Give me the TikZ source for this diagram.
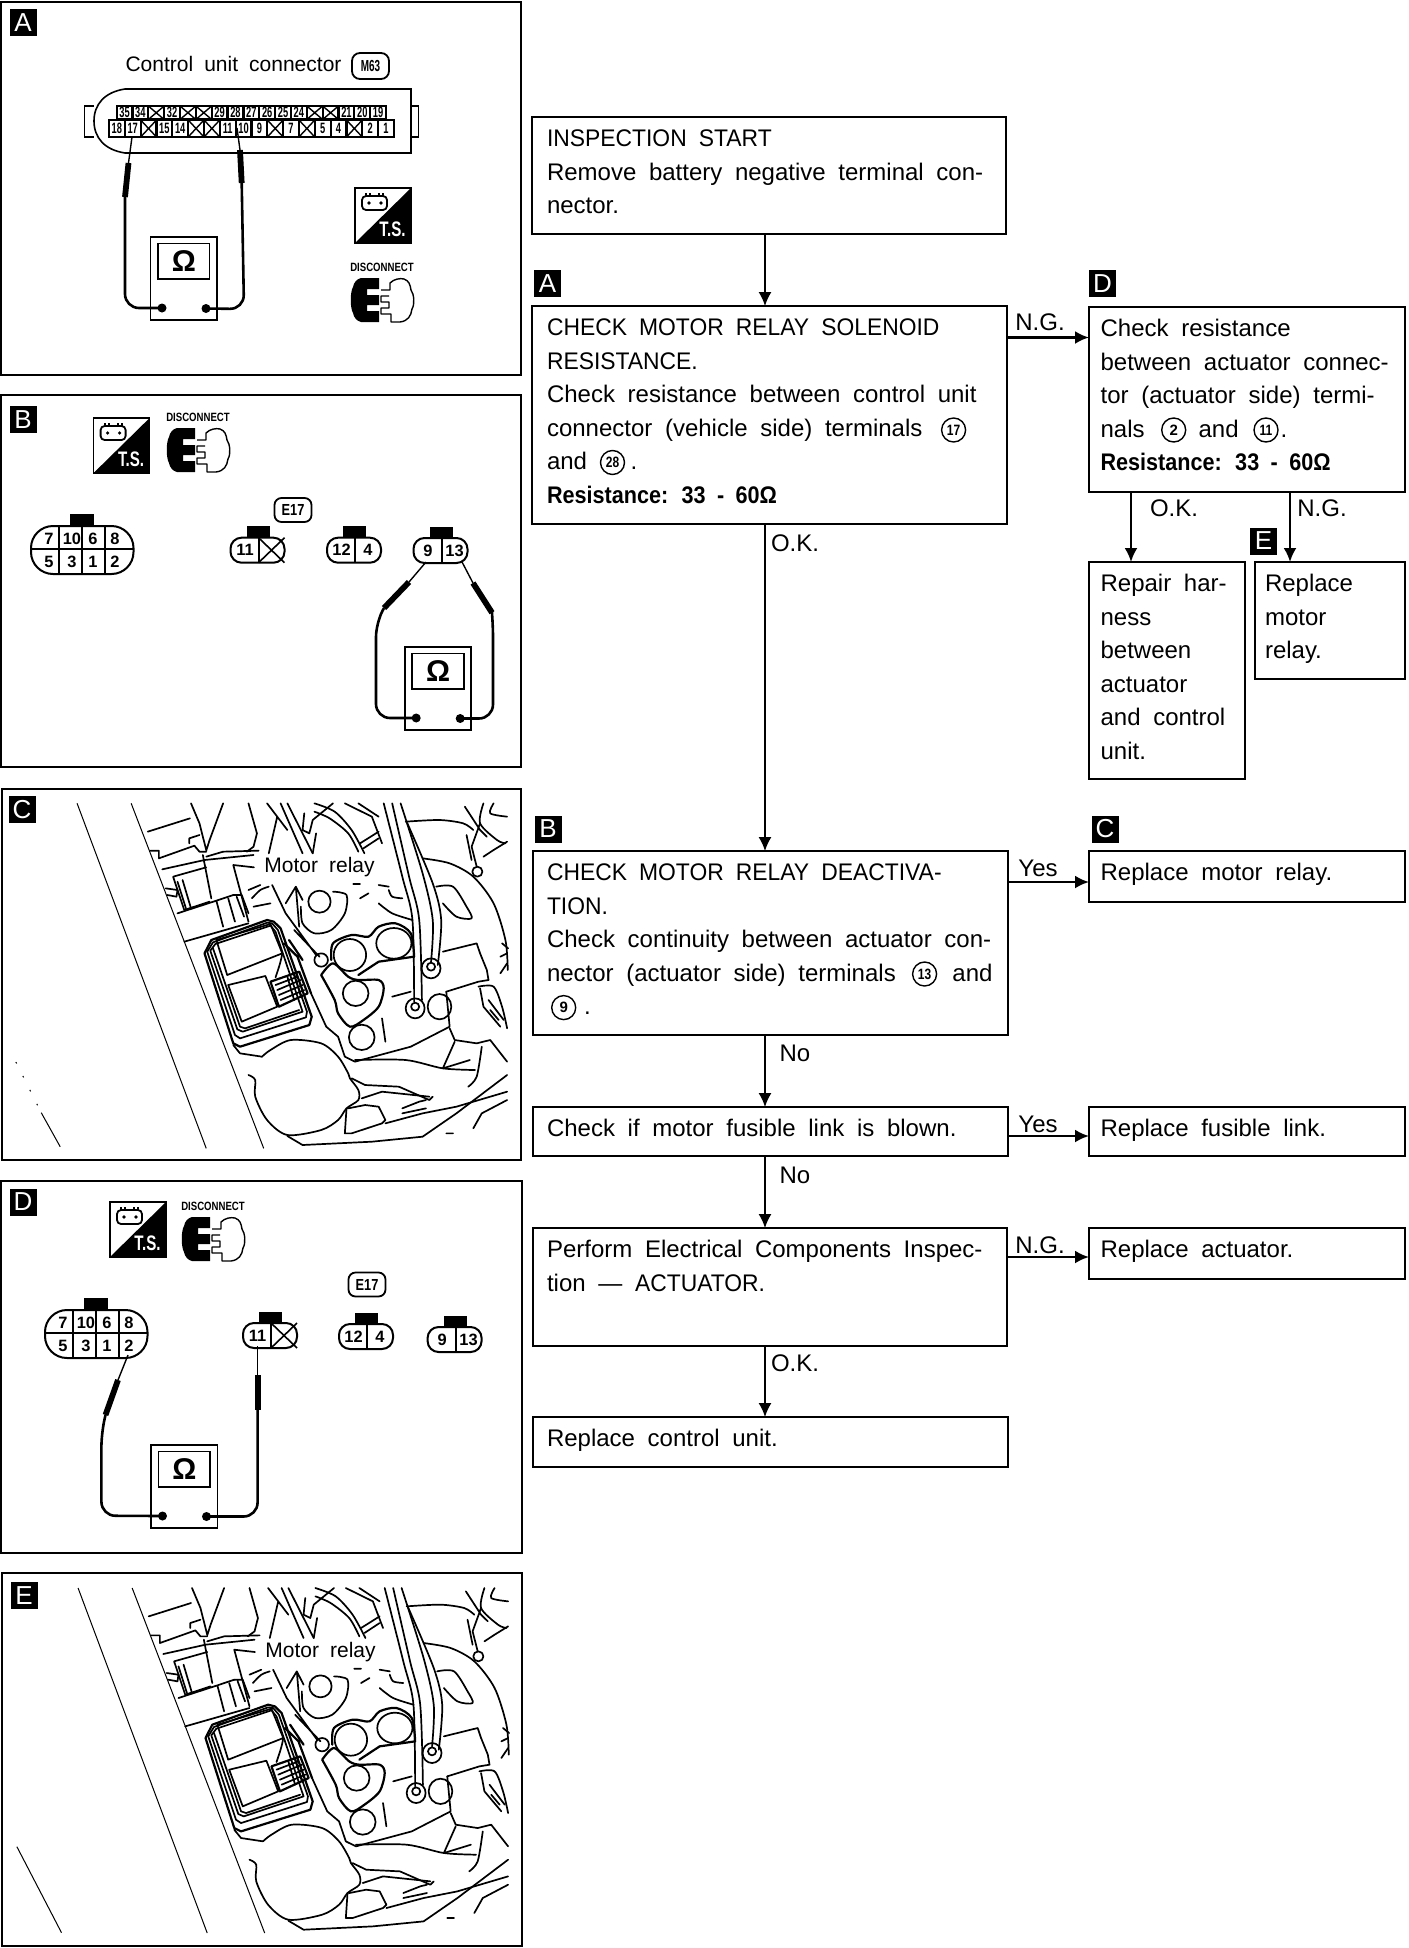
\documentclass[tikz,border=0pt]{standalone}
\usepackage{fontspec}
\setmainfont{Liberation Sans}[WordSpace=1.9]
\usetikzlibrary{arrows.meta}
\newcommand\flowfont{\fontsize{12}{16.75}\selectfont}
\newcommand\ftxt[4][7.5pt]{\parbox[c][\dimexpr#3pt/2\relax][t]{\dimexpr#2pt/2\relax}{\raggedright\setlength\leftskip{#1}\noindent\rule{0pt}{14.9pt}#4}}
\newcommand\seg[2]{\makebox[\dimexpr#1pt/2\relax][l]{#2}}
\newcommand\cond[2][.72]{\scalebox{#1}[1]{#2}}
\newcommand\ucase[1]{\scalebox{.953}[1]{#1}}
\newcommand\resline{\scalebox{.9}[1]{\textbf{Resistance: 33 - 60Ω}}}
\tikzset{
  flowbox/.style={draw,line width=1pt,inner sep=0pt,outer sep=0pt,anchor=north west,font=\flowfont},
  flowlab/.style={font=\flowfont,inner sep=0pt},
  flowarrow/.style={-{Latex[length=7pt,width=6.5pt]},line width=.75pt},
  heavyarrow/.style={-{Latex[length=7pt,width=6.5pt]},line width=1.2pt},
  panelframe/.style={draw,line width=1pt},
  tagbox/.style={fill=black,text=white,inner sep=0pt,minimum width=13.5pt,minimum height=13.5pt,font=\fontsize{13}{13}\selectfont},
  numring/.style={draw,circle,line width=.7pt,inner sep=0pt,minimum size=12pt,font=\fontsize{7.5}{7.5}\selectfont\bfseries},
  capsule/.style={draw,line width=.9pt,rounded corners=3.5pt,inner sep=0pt,minimum width=18.5pt,minimum height=12pt,font=\fontsize{8}{8}\selectfont\bfseries},
  pin/.style={inner sep=0pt,font=\fontsize{8.2}{8.2}\selectfont\bfseries},
  cellnum/.style={inner sep=0pt,font=\fontsize{7.5}{7.5}\selectfont\bfseries},
  probetip/.style={line width=.7pt},
  sleeve/.style={line width=2.9pt},
  probewire/.style={line width=1.3pt,rounded corners=7pt},
  mdot/.style={circle,fill=black,inner sep=0pt,minimum size=4.5pt},
  ink/.style={line width=.85pt,line join=round,line cap=round},
  thinink/.style={line width=.5pt},
  relaylab/.style={fill=white,inner sep=5pt,font=\fontsize{10.5}{10.5}\selectfont},
}
% ---------- repeated symbols (coordinates in reference pixels)
\newcommand\meterbox[3]{%
  \begin{scope}[shift={(#2,#3)}]
    \draw[line width=.9pt] (0,0) rectangle (66.5,83);
    \draw[line width=.9pt] (7.5,6.5) rectangle (59,42);
    \node[inner sep=0pt,font=\fontsize{15}{15}\selectfont\bfseries] (#1O) at (33.5,24.5) {Ω};
    \node[mdot] (#1L) at (11.5,71) {};
    \node[mdot] (#1R) at (55.5,71.5) {};
  \end{scope}}
\newcommand\tsicon[3]{%
  \begin{scope}[shift={(#2,#3)}]
    \draw[line width=.7pt] (0,0) rectangle (56,55);
    \fill (56,0) -- (56,55) -- (0,55) -- cycle;
    \draw[line width=.9pt,rounded corners=2pt] (7,8) rectangle (32,22);
    \draw[line width=.9pt] (11,8) -- (11,5) (15,5) -- (15,8) (24,8) -- (24,5) (28,5) -- (28,8);
    \fill (14,15) circle (1.8) (26,15) circle (1.8);
    \node[inner sep=0pt,text=white,font=\fontsize{10.5}{10.5}\selectfont\bfseries] (#1) at (37.5,41) {\cond[.72]{T.S.}};
  \end{scope}}
\newcommand\discon[3]{%
  \begin{scope}[shift={(#2,#3)}]
    \node[inner sep=0pt,font=\fontsize{6}{6}\selectfont\bfseries] (#1) at (32,-10.5) {\cond[.8]{DISCONNECT}};
    \fill (29,0) -- (11,0) .. controls (7,1) and (4,4) .. (3,9) .. controls (0,14) and (0,30) .. (3,35) .. controls (4,40) and (7,43) .. (11,44) -- (29,44) -- (29,33) -- (17,33) -- (17,27) -- (29,27) -- (29,17) -- (17,17) -- (17,11) -- (29,11) -- cycle;
    \draw[line width=.7pt,line join=round] (31,12) -- (40,12) -- (40,5) .. controls (44,1) and (50,0) .. (54,1) .. controls (59,3) and (60,6) .. (61,12) .. controls (64,16) and (65,26) .. (62,31) .. controls (61,38) and (58,43) .. (50,44) -- (41,44) -- (41,36) -- (31,36) -- (31,30) -- (39,30) -- (39,24) -- (31,24) -- (31,18) -- (39,18);
  \end{scope}}
\newcommand\bigconn[3]{%
  \begin{scope}[shift={(#2,#3)}]
    \fill (39,-12) rectangle (62.5,0);
    \draw[line width=1pt,rounded corners=11pt] (0,0) rectangle (102.5,48);
    \draw[line width=1pt] (0,23) -- (102.5,23) (28,0) -- (28,48) (51,0) -- (51,48) (74,0) -- (74,48);
    \node[pin] (#1a) at (18,13) {7};
    \node[pin] at (41,13) {10};
    \node[pin] at (62,13) {6};
    \node[pin] at (84,13) {8};
    \node[pin] at (18,36) {5};
    \node[pin] at (41,36) {3};
    \node[pin] at (62,36) {1};
    \node[pin] (#1b) at (84,36) {2};
  \end{scope}}
\newcommand\smallconn[5]{%
  \begin{scope}[shift={(#2,#3)}]
    \fill (16,-11.5) rectangle (39,0);
    \draw[line width=1pt,rounded corners=5.5pt] (0,0) rectangle (54,25);
    \draw[line width=1pt] (28,0) -- (28,25);
    \node[pin] (#1) at (14.5,12.5) {#4};
    \ifnum#5=0
      \draw[line width=.8pt] (28,0) -- (54,25) (28,25) -- (54,0);
    \else
      \node[pin] at (41,12.5) {#5};
    \fi
  \end{scope}}
\newcommand\termcell[5]{%
  \begin{scope}[shift={(#1,#2)}]
    \draw[line width=1.1pt,fill=white] (0,0) rectangle (#3,#4);
    \ifnum#5=0
      \draw[line width=.7pt] (0,0) -- (#3,#4) (0,#4) -- (#3,0);
    \else
      \node[cellnum] (cell#5) at (#3/2,#4/2) {\cond[.62]{#5}};
    \fi
  \end{scope}}
% ---------- the engine-bay line drawing (coordinates taken from the crop of panel C)
\newcommand\enginebay{%
  \draw[thinink] (228,70) -- (610,1105) (388,70) -- (780,1105);
  \begin{scope}[ink]
  \draw (437,155) -- (562,115);
  \draw (565,70) -- (590,130) -- (610,210) (660,70) -- (620,180) -- (610,212);
  \draw (560,190) -- (560,175) -- (590,165);
  \draw (445,212) -- (470,212) -- (470,235) -- (575,197) -- (590,215) -- (610,215);
  \draw (610,230) -- (660,215) -- (765,212);
  \draw (480,268) -- (605,240) -- (750,225);
  \draw (600,225) -- (625,355);
  \draw (512,290) -- (610,262) (512,290) -- (545,390) -- (620,365);
  \draw (525,305) -- (550,385) (540,300) -- (565,385);
  \draw (490,325) -- (525,330) -- (522,350) -- (495,345);
  \draw (525,400) -- (640,362) -- (690,345) (640,362) -- (660,440);
  \draw (675,355) -- (695,425) (700,350) -- (722,410) (690,345) -- (715,345) -- (735,400);
  \draw (545,485) -- (735,430);
  % relay housing
  \draw[line width=1.1pt] (605,520) -- (690,790) -- (710,800) -- (915,735) -- (922,710) -- (830,445) -- (810,425) -- (790,420) -- (625,480) -- cycle;
  \draw (613,515) -- (695,765) -- (710,775) -- (905,712) -- (908,695) -- (822,450) -- (805,430) -- (790,428) -- (630,487) -- cycle;
  \draw (622,512) -- (702,748) -- (718,755) -- (895,695) -- (815,455) -- (800,437) -- (637,492) -- cycle;
  \draw (630,505) -- (710,740) -- (725,745) -- (885,690);
  \draw (640,480) -- (800,432) -- (835,520) -- (672,585) -- cycle;
  \draw (675,615) -- (785,588) -- (820,680) -- (715,725) -- cycle;
  \draw (835,520) .. controls (830,550) and (822,570) .. (815,592);
  \draw[line width=1.1pt] (800,605) -- (885,575) -- (910,640) -- (825,680) -- cycle;
  \draw (815,615) -- (880,590) (820,630) -- (890,600) (825,645) -- (895,615) (830,660) -- (900,630) (850,590) -- (870,660) (870,580) -- (890,650);
  \draw[line width=1.1pt] (840,490) -- (880,530) -- (920,640) (855,480) -- (895,540);
  % hoses at the top
  \draw (735,70) -- (760,160) -- (750,200) -- (730,215);
  \draw (795,220) -- (820,110) -- (850,150) (790,70) -- (820,110) (830,70) -- (895,220) (850,70) -- (925,220);
  \draw (900,100) -- (895,150) -- (915,160) -- (925,120) -- (985,70) (935,160) -- (925,220);
  \draw plot[smooth] coordinates {(930,70) (990,95) (1040,150) (1078,220)};
  \draw plot[smooth] coordinates {(930,95) (975,115) (1030,160) (1060,215)};
  \draw (1020,70) -- (1100,110) -- (1130,190) (1060,70) -- (1120,110);
  \draw (1065,190) -- (1120,155) (1075,205) -- (1120,175);
  \draw plot[smooth] coordinates {(1135,70) (1190,290) (1220,420) (1225,665)};
  \draw plot[smooth] coordinates {(1160,70) (1210,290) (1240,420) (1248,660)};
  \draw plot[smooth] coordinates {(1185,70) (1250,280) (1280,420) (1275,545)};
  \draw plot[smooth] coordinates {(1205,130) (1280,310) (1305,420) (1295,555)};
  \draw plot[smooth] coordinates {(1200,125) (1300,120) (1370,130) (1400,150)};
  \draw plot[smooth] coordinates {(1250,235) (1330,250) (1400,290) (1460,370) (1495,480) (1502,570)};
  \draw (1375,80) -- (1420,150) -- (1440,170) (1420,130) -- (1395,200) -- (1410,260) (1380,165) -- (1395,240);
  \draw (1412,275) circle [x radius=15,y radius=15];
  \draw plot[smooth] coordinates {(1500,110) (1450,100) (1460,70)};
  \draw plot[smooth] coordinates {(1430,70) (1420,130) (1470,180) (1495,190)};
  \draw (1430,230) -- (1460,210) -- (1500,185);
  \draw plot[smooth] coordinates {(1290,320) (1340,320) (1380,380) (1395,415) (1350,410) (1310,370)};
  \draw (1310,515) -- (1410,490) -- (1420,520) -- (1440,570) -- (1445,600) -- (1415,605) -- (1320,635);
  \draw (1485,490) -- (1503,505) (1480,530) -- (1500,520) (1480,580) -- (1500,550);
  % manifold
  \draw (805,315) -- (845,400) -- (935,525) (870,450) -- (945,530);
  \draw (845,370) -- (875,320) -- (895,360) (875,320) -- (885,440);
  \draw (945,365) circle [x radius=33,y radius=33];
  \draw plot[smooth] coordinates {(985,335) (1025,345) (1020,400) (980,450) (930,460) (895,430) (890,380)};
  \draw (1065,355) -- (1090,340) (1045,312) -- (1065,312) (735,330) -- (770,315) (750,380) -- (800,370);
  \draw plot[smooth] coordinates {(745,355) (770,330) (795,320)};
  \draw (1120,315) -- (1150,320);
  \draw plot[smooth] coordinates {(1120,370) (1160,400) (1220,420)};
  \draw plot[smooth] coordinates {(1150,330) (1160,350) (1190,355)};
  \draw (1035,525) circle [x radius=48,y radius=48];
  \draw (1165,490) circle [x radius=52,y radius=46];
  \draw[line width=1.1pt] plot[smooth] coordinates {(980,540) (985,490) (1040,465) (1090,470) (1120,440) (1170,430) (1215,460) (1225,530)};
  \draw[line width=1.1pt] (1225,530) -- (1120,545) -- (1060,585);
  \draw[line width=1.1pt] plot[smooth] coordinates {(950,585) (985,550) (1030,590) (1060,600) (1120,600) (1135,625) (1120,680) (1075,720) (1035,740) (1000,700) (990,660) (950,585)};
  \draw (1052,640) circle [x radius=38,y radius=38];
  \draw (1070,772) circle [x radius=38,y radius=38];
  \draw (950,540) circle [x radius=20,y radius=20];
  \draw (1130,715) -- (1140,785) (1160,650) -- (1215,635);
  \draw (1228,685) circle [x radius=28,y radius=30];
  \draw (1228,680) circle [x radius=12,y radius=12];
  \draw (1300,680) circle [x radius=35,y radius=38];
  \draw (1275,565) circle [x radius=28,y radius=30];
  \draw (1275,560) circle [x radius=12,y radius=12];
  \draw (920,640) -- (965,740) -- (1000,770) -- (1020,830) -- (1050,845) -- (1215,800) -- (1330,740) -- (1320,635);
  \draw (1330,745) -- (1345,780) -- (1410,790) -- (1450,780) -- (1500,845);
  \draw (1345,785) -- (1310,865) -- (1390,840);
  \draw plot[smooth] coordinates {(1050,840) (1200,840) (1310,865) (1405,870)};
  \draw plot[smooth] coordinates {(1425,800) (1410,890) (1385,920)};
  \draw plot[smooth] coordinates {(1415,620) (1460,620) (1485,680) (1500,745)};
  \draw (1420,625) -- (1430,680) -- (1480,740) (1450,690) -- (1475,720) (1445,660) -- (1490,720);
  % lower body
  \draw (690,795) -- (710,820) -- (775,830);
  \draw plot[smooth] coordinates {(775,830) (800,810) (860,780) (950,790) (1000,830) (1030,880) (1035,895) (1060,930) (1060,960) (1025,985) (1000,1020) (950,1050) (850,1065) (790,1020) (755,950) (755,900) (735,885)};
  \draw (850,1068) -- (895,1095) -- (1100,1085) -- (1250,1070) -- (1350,1000) -- (1500,885);
  \draw (1040,895) -- (1080,915) -- (1180,920) -- (1270,960) -- (1280,950);
  \draw (1070,955) -- (1130,935) -- (1270,950);
  \draw (1025,985) -- (1020,1060) -- (1040,1060) -- (1130,1030) -- (1140,1020) -- (1120,980) -- (1080,975) -- (1030,985);
  \draw (1140,1030) -- (1250,1000) -- (1350,980) -- (1500,935);
  \draw (1190,985) -- (1240,965) -- (1260,960) (1190,1000) -- (1260,985);
  \draw (1400,1045) -- (1425,1000) -- (1500,960) (1320,1060) -- (1340,1060);
  \end{scope}
  \draw[ink] (relay.west) -- (690,255) -- (735,425);}
\begin{document}
\begin{tikzpicture}[x=.5pt,y=-.5pt]
\useasboundingbox (0,0) rectangle (1408,1948);
\fill[white] (0,0) rectangle (1408,1948);

% ================= PANEL A
\draw[panelframe] (1,2) rectangle (521,375);
\node[tagbox] (tagpA) at (23,23) {A};
\node[inner sep=0pt,font=\fontsize{10.5}{10.5}\selectfont] (titleA) at (233.5,64) {Control unit connector};
\node[capsule,minimum width=18.5pt,minimum height=13pt,rounded corners=4pt] (capA) at (370.5,66) {\cond[.62]{M63}};
\draw[line width=.8pt] (94,106) -- (84.5,106) -- (84.5,137) -- (94,137) (411,106) -- (418.5,106) -- (418.5,137) -- (411,137);
\draw[line width=.8pt] (411,89) -- (125,89) .. controls (105,92) and (94,104) .. (94,121) .. controls (94,138) and (105,150) .. (125,153) -- (411,153) -- cycle;
\foreach \n [count=\i from 0] in {35,34,0,32,0,0,29,28,27,26,25,24,0,0,21,20,19}
  \termcell{116.6+\i*15.85}{106}{15.85}{13.5}{\n};
\foreach \n [count=\i from 0] in {18,17,0,15,14,0,0,11,10,9,0,7,0,5,4,0,2,1}
  \termcell{109+\i*15.83}{120}{15.83}{17}{\n};
\meterbox{mA}{150.5}{237}
\coordinate (tipAl) at (132,137);
\coordinate (sleAl) at (128.5,163);
\coordinate (sleAl2) at (125,197);
\coordinate (tipAr) at (237,128);
\coordinate (sleAr) at (240,150);
\coordinate (sleAr2) at (241.7,183);
\draw[probetip] (tipAl) -- (sleAl);
\draw[sleeve] (sleAl) -- (sleAl2);
\draw[probewire] (sleAl2) -- (125,308) -- (mAL.center);
\draw[probetip] (tipAr) -- (sleAr);
\draw[sleeve] (sleAr) -- (sleAr2);
\draw[probewire] (sleAr2) -- (244,309) -- (mAR.center);
\tsicon{tsA}{355}{188}
\discon{dcA}{350}{278}

% ================= PANEL B
\draw[panelframe] (1,395) rectangle (521,767);
\node[tagbox] (tagpB) at (23,419.5) {B};
\tsicon{tsB}{93.6}{418}
\discon{dcB}{166}{428}
\node[capsule] (capB) at (293,510) {\cond[.8]{E17}};
\bigconn{bcB}{31}{526}
\smallconn{scB1}{230.5}{537.7}{11}{0}
\smallconn{scB2}{327}{537.7}{12}{4}
\smallconn{scB3}{413.5}{538}{9}{13}
\meterbox{mB}{404.7}{647}
\coordinate (tipBl) at (426,562);
\coordinate (sleBl) at (409,582);
\coordinate (sleBl2) at (384,608);
\coordinate (tipBr) at (461.5,561);
\coordinate (sleBr) at (473,583);
\coordinate (sleBr2) at (492,612.7);
\draw[probetip] (tipBl) -- (sleBl);
\draw[sleeve] (sleBl) -- (sleBl2);
\draw[probewire] (sleBl2) -- (376,623) -- (376,718) -- (mBL.center);
\draw[probetip] (tipBr) -- (sleBr);
\draw[sleeve] (sleBr) -- (sleBr2);
\draw[probewire] (sleBr2) -- (493,623) -- (493,718.5) -- (mBR.center);

% ================= PANEL C
\draw[panelframe] (2,789) rectangle (521,1160);
\node[tagbox] (tagpC) at (22,809.5) {C};
\begin{scope}[shift={(0,780)},x=.16903pt,y=-.16667pt]
  \node[relaylab] (relay) at (945,262) {Motor relay};
  \enginebay
  \draw[thinink] (122,998) -- (178,1100);
  \draw[thinink,dash pattern=on .8pt off 7pt] (47,846) -- (122,998);
\end{scope}

% ================= PANEL D
\draw[panelframe] (1,1181) rectangle (522,1553);
\node[tagbox] (tagpD) at (23,1202) {D};
\tsicon{tsD}{110}{1202}
\discon{dcD}{181}{1217}
\node[capsule] (capD) at (367,1284.5) {\cond[.8]{E17}};
\bigconn{bcD}{45}{1310}
\smallconn{scD1}{243}{1323}{11}{0}
\smallconn{scD2}{339}{1324}{12}{4}
\smallconn{scD3}{427.6}{1327}{9}{13}
\meterbox{mD}{151}{1445}
\coordinate (tipDl) at (128,1355);
\coordinate (sleDl) at (118,1380);
\coordinate (sleDl2) at (105.5,1415);
\coordinate (tipDr) at (257.6,1346);
\coordinate (sleDr) at (257.6,1375);
\coordinate (sleDr2) at (257.6,1410);
\draw[probetip] (tipDl) -- (sleDl);
\draw[sleeve] (sleDl) -- (sleDl2);
\draw[probewire] (sleDl2) -- (101.4,1433) -- (101.4,1515.7) -- (mDL.center);
\draw[probetip] (tipDr) -- (sleDr);
\draw[sleeve] (sleDr) -- (sleDr2);
\draw[probewire] (sleDr2) -- (257.6,1516.5) -- (mDR.center);

% ================= PANEL E
\draw[panelframe] (2,1573) rectangle (522,1946);
\node[tagbox] (tagpE) at (24,1595.5) {E};
\begin{scope}[shift={(1,1564.67)},x=.16903pt,y=-.16667pt]
  \node[relaylab] (relay) at (945,262) {Motor relay};
  \enginebay
  \draw[thinink] (47,846) -- (179,1104);
\end{scope}

% ================= FLOW CHART
\node[flowbox] (start) at (532,117) {\ftxt{474}{117}{\ucase{INSPECTION START}\\Remove battery negative terminal con-\\nector.}};
\node[flowbox] (chkA) at (532,306) {\ftxt{475}{218}{\ucase{CHECK MOTOR RELAY SOLENOID}\\\ucase{RESISTANCE.}\\Check resistance between control unit\\connector (vehicle side) terminals\\\seg{83.7}{and}.\\\resline}};
\node[flowbox] (chkD) at (1089,307) {\ftxt[5.8pt]{316}{185}{Check resistance\\between actuator connec-\\tor (actuator side) termi-\\\seg{98}{nals}\seg{82}{and}.\\\resline}};
\node[flowbox] (repair) at (1089,562) {\ftxt[5.8pt]{156}{217}{Repair har-\\ness\\between\\actuator\\and control\\unit.}};
\node[flowbox] (relayE) at (1255,562) {\ftxt[5pt]{150}{117}{Replace\\motor\\relay.}};
\node[flowbox] (chkB) at (533,851) {\ftxt[7pt]{475}{184}{\ucase{CHECK MOTOR RELAY DEACTIVA-}\\\ucase{TION.}\\Check continuity between actuator con-\\\seg{405.5}{nector (actuator side) terminals}and\\\seg{37}{}.}};
\node[flowbox] (relayC) at (1089,851) {\ftxt[5.8pt]{316}{51}{Replace motor relay.}};
\node[flowbox] (fuse) at (533,1107) {\ftxt[7pt]{475}{49}{Check if motor fusible link is blown.}};
\node[flowbox] (fuseR) at (1089,1107) {\ftxt[5.8pt]{316}{49}{Replace fusible link.}};
\node[flowbox] (perform) at (533,1228) {\ftxt[7pt]{474}{118}{Perform Electrical Components Inspec-\\tion --- \ucase{ACTUATOR.}}};
\node[flowbox] (actR) at (1089,1228) {\ftxt[5.8pt]{316}{51}{Replace actuator.}};
\node[flowbox] (ctrl) at (533,1417) {\ftxt[7pt]{475}{50}{Replace control unit.}};

\node[numring] (n17) at (953.6,430) {\cond[.8]{17}};
\node[numring] (n28) at (612.5,462.5) {\cond[.8]{28}};
\node[numring] (n2) at (1173.7,430) {2};
\node[numring] (n11) at (1266,430) {\cond[.8]{11}};
\node[numring] (n13) at (924.6,974) {\cond[.8]{13}};
\node[numring] (n9) at (563.7,1007.6) {9};

\node[tagbox] (ftA) at (547.5,283.5) {A};
\node[tagbox] (ftD) at (1102.5,283.5) {D};
\node[tagbox] (ftE) at (1263.5,541) {E};
\node[tagbox] (ftB) at (548,829) {B};
\node[tagbox] (ftC) at (1105,829) {C};

\coordinate (trunk) at (765,0);
\coordinate (okx) at (1131,0);
\coordinate (ngx) at (1290,0);
\coordinate (ya) at (0,337.5);
\coordinate (yb) at (0,882);
\coordinate (yf) at (0,1136);
\coordinate (yp) at (0,1257);
\draw[flowarrow] (start.south -| trunk) -- (chkA.north -| trunk);
\draw[flowarrow] (chkA.south -| trunk) -- (chkB.north -| trunk);
\draw[flowarrow] (chkB.south -| trunk) -- (fuse.north -| trunk);
\draw[flowarrow] (fuse.south -| trunk) -- (perform.north -| trunk);
\draw[flowarrow] (perform.south -| trunk) -- (ctrl.north -| trunk);
\draw[heavyarrow] (chkA.east |- ya) -- (chkD.west |- ya);
\draw[heavyarrow] (chkB.east |- yb) -- (relayC.west |- yb);
\draw[heavyarrow] (fuse.east |- yf) -- (fuseR.west |- yf);
\draw[heavyarrow] (perform.east |- yp) -- (actR.west |- yp);
\draw[heavyarrow] (chkD.south -| okx) -- (repair.north -| okx);
\draw[heavyarrow] (chkD.south -| ngx) -- (relayE.north -| ngx);

\node[flowlab] (lab1) at (1040,322) {N.G.};
\node[flowlab] (lab2) at (795,543) {O.K.};
\node[flowlab] (lab3) at (1174,508) {O.K.};
\node[flowlab] (lab4) at (1322,508) {N.G.};
\node[flowlab] (lab5) at (1038,868) {Yes};
\node[flowlab] (lab6) at (795,1053) {No};
\node[flowlab] (lab7) at (1038,1124) {Yes};
\node[flowlab] (lab8) at (795,1175) {No};
\node[flowlab] (lab9) at (1040,1245) {N.G.};
\node[flowlab] (lab10) at (795,1363) {O.K.};
\end{tikzpicture}
\end{document}
